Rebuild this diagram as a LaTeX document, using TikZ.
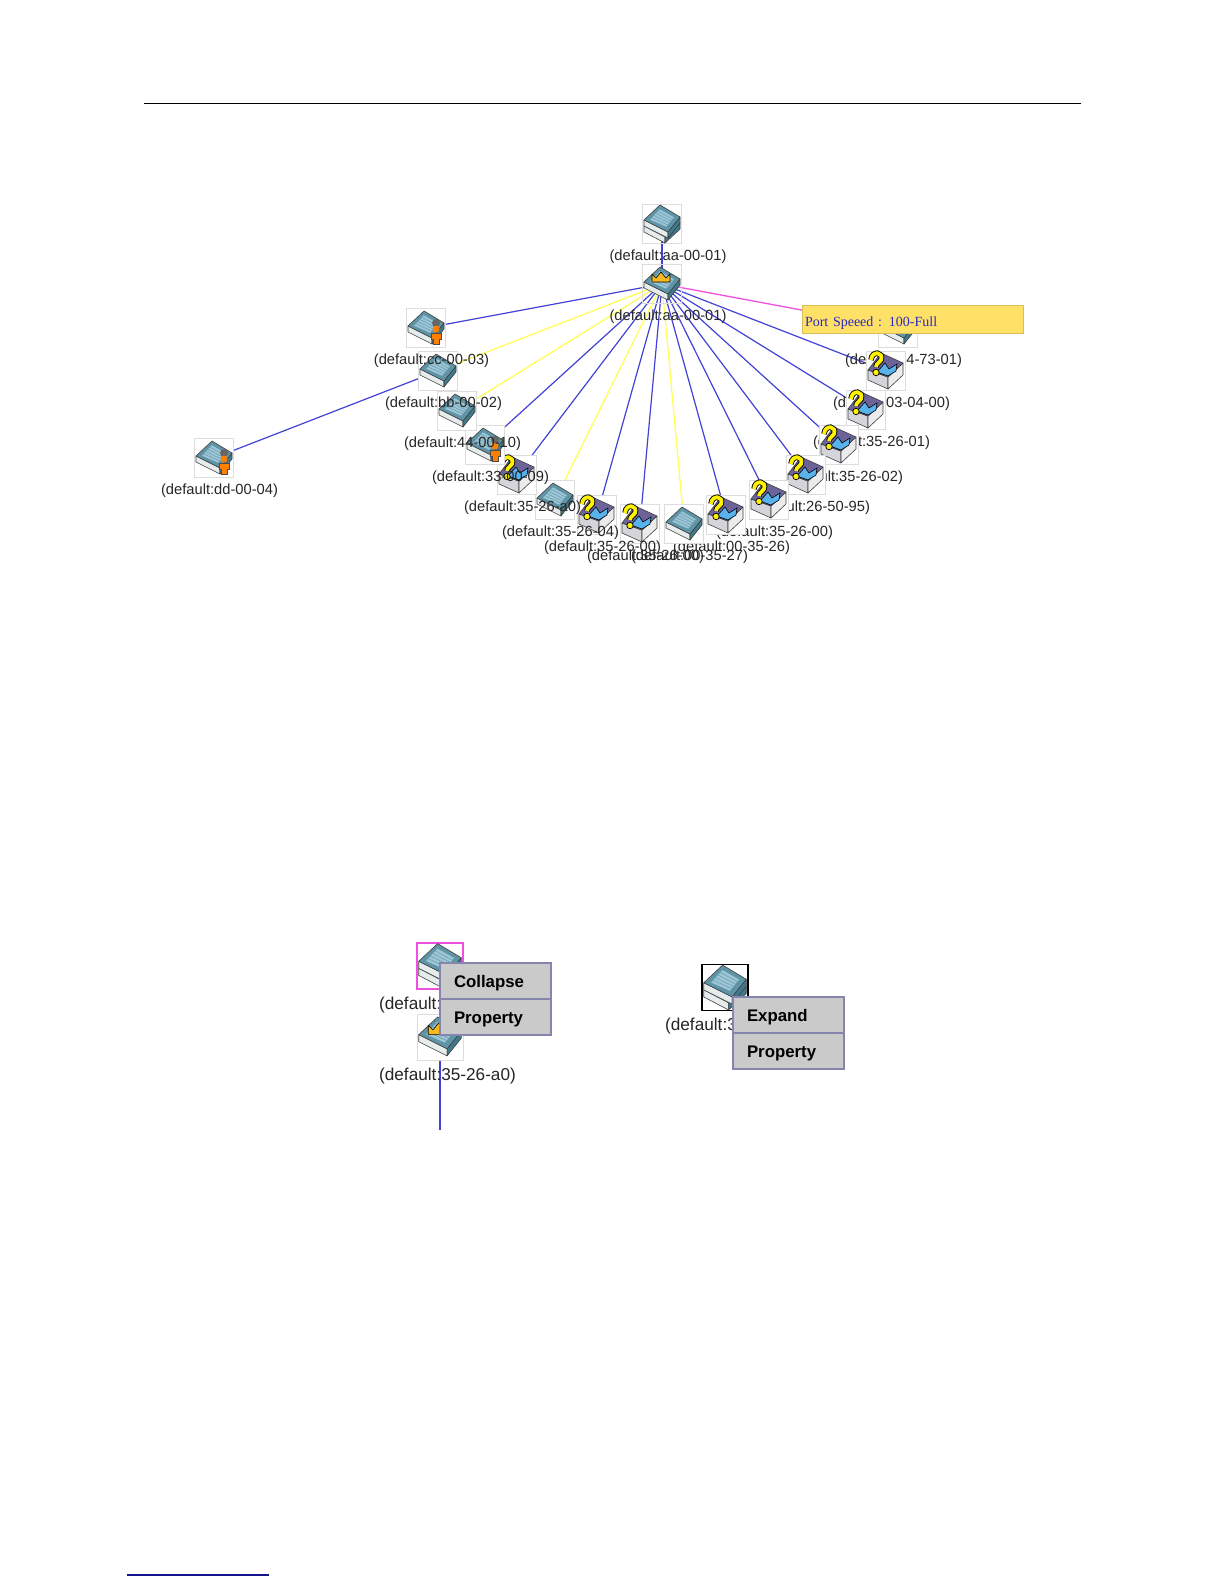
\documentclass[tikz,border=0pt]{standalone}
\usepackage{fontspec}
\setmainfont{Liberation Sans}
\newfontfamily\tipfont{Liberation Serif}
\usetikzlibrary{positioning}
\definecolor{swtop}{HTML}{5F93A6}
\definecolor{swgrid}{HTML}{9CC6D6}
\definecolor{swside}{HTML}{3F7A8C}
\definecolor{swfront}{HTML}{E6ECEC}
\definecolor{wireblue}{HTML}{4242D6}
\definecolor{wireyellow}{HTML}{FFFF5A}
\definecolor{wirepink}{HTML}{F050E0}
\definecolor{tipfill}{HTML}{FFE168}
\definecolor{tiptext}{HTML}{2A2AC0}
\definecolor{menufill}{HTML}{CACACA}
\definecolor{menuline}{HTML}{8585AE}
\definecolor{qtop}{HTML}{6C6498}
\definecolor{qsky}{HTML}{58B2EC}
\definecolor{qface}{HTML}{D4D4DA}
\definecolor{crowngold}{HTML}{F7B91E}
\definecolor{boxgrey}{HTML}{DDDDDD}
\definecolor{navy}{HTML}{14148C}
\pgfdeclarelayer{edges}
\pgfsetlayers{edges,main}
\tikzset{
  hostbox/.style={draw=boxgrey,fill=white,line width=0.8pt,minimum size=39pt,inner sep=0pt,outer sep=0pt},
  hostlabel/.style={inner sep=0pt,text=black!85,font=\fontsize{14.7}{16}\selectfont},
  biglabel/.style={inner sep=0pt,text=black!85,font=\fontsize{17.2}{19}\selectfont},
  bluewire/.style={draw=wireblue,line width=1.2pt},
  yellowwire/.style={draw=wireyellow,line width=1.3pt},
  pinkwire/.style={draw=wirepink,line width=1.3pt},
  menuitem/.style={draw=menuline,fill=menufill,line width=1.2pt,minimum width=111pt,minimum height=36pt,text width=83pt,text height=15.5pt,text depth=3.5pt,inner xsep=14pt,inner ysep=0pt,outer sep=0pt,align=left,font=\fontsize{16.8}{18}\selectfont\bfseries},
  iconline/.style={draw=black!75,line width=0.6pt,line join=round}
}
\newcommand{\switchbody}{%
  \path[iconline,fill=swfront] (-18,-2)--(6,10)--(6,16)--(-18,4)--cycle;
  \path[iconline,fill=swside] (6,10)--(18,-5)--(18,1)--(6,16)--cycle;
  \path[iconline,fill=swtop] (-2,-17)--(18,-5)--(6,10)--(-18,-2)--cycle;
  \fill[swgrid] (-2,-13)--(12,-5)--(4,5)--(-12,-2)--cycle;
  \foreach \g in {0,0.2,0.4,0.6,0.8,1}{\draw[swtop,line width=0.4pt] ({-2-10*\g},{-13+11*\g})--({12-8*\g},{-5+10*\g});}
}
\newcommand{\plainicon}[2][1]{\begin{scope}[shift={(#2)},scale=#1]\switchbody\end{scope}}
\newcommand{\stackicon}[2][1]{\begin{scope}[shift={(#2)},scale=#1]
  \begin{scope}[shift={(0,4)}]\path[iconline,fill=swfront] (-18,-2)--(3,9)--(3,15)--(-18,4)--cycle;\path[iconline,fill=swside] (3,9)--(18,-5)--(18,1)--(3,15)--cycle;\end{scope}
  \begin{scope}[shift={(0,-2)}]\switchbody\end{scope}
\end{scope}}
\newcommand{\crownicon}[2][1]{\begin{scope}[shift={(#2)},scale=#1]\switchbody
  \path[draw=black,line width=0.6pt,line join=round,fill=crowngold] (-10,-10)--(-6,-6)--(-1,-12)--(4,-6)--(8,-10)--(8,-2)--(-10,-2)--cycle;
\end{scope}}
\newcommand{\personicon}[2][1]{\begin{scope}[shift={(#2)},scale=#1]\switchbody
  \fill[black!60] (10,-5) circle (4);
  \fill[orange] (10,1) circle (3.5);
  \path[draw=black!70,line width=0.5pt,fill=orange] (5,5)--(15,5)--(15,11)--(13,11)--(13,16)--(7,16)--(7,11)--(5,11)--cycle;
\end{scope}}
\newcommand{\queryicon}[2][1]{\begin{scope}[shift={(#2)},scale=#1]
  \path[iconline,fill=qface] (-18,-1)--(2,6)--(2,18)--(-18,9)--cycle;
  \path[iconline,fill=white!92!black] (2,6)--(17,-8)--(17,4)--(2,18)--cycle;
  \path[iconline,fill=qtop] (-5,-18)--(17,-8)--(2,6)--(-18,-1)--cycle;
  \path[draw=black,line width=0.6pt,fill=qsky] (-9,1)--(-1,-8)--(3,-2)--(11,-7)--(10,0)--(2,5)--cycle;
  \draw[black,line width=5.6pt] (-15,-11) .. controls (-14,-21) and (-2,-19) .. (-5,-11) .. controls (-6,-8) and (-10,-8) .. (-10,-4);
  \fill[black] (-10,1.5) circle (3.6);
  \draw[yellow,line width=3.8pt] (-15,-11) .. controls (-14,-21) and (-2,-19) .. (-5,-11) .. controls (-6,-8) and (-10,-8) .. (-10,-4);
  \fill[yellow] (-10,1.5) circle (2.7);
\end{scope}}
\begin{document}
\begin{tikzpicture}[x=1pt,y=-1pt]
    \useasboundingbox (0,0) rectangle (1224,1584);
    \begin{pgfonlayer}{edges}\fill[white] (0,0) rectangle (1224,1584);\end{pgfonlayer}
    % page rules
    \coordinate (ruleL) at (144,103.5); \coordinate (ruleR) at (1081,103.5);
    \draw[black,line width=1pt] (ruleL)--(ruleR);
    \coordinate (linkL) at (127,1575); \coordinate (linkR) at (269,1575);
    \draw[navy,line width=1.2pt] (linkL)--(linkR);
    % top of the tree
    \node[hostbox,fill=none] (top) at (662,224) {}; \stackicon{top};
    \node[hostlabel] (toplbl) at (668,257) {(default:aa-00-01)};
    \node[hostbox,fill=none] (root) at (662,284) {}; \crownicon{root};
    \node[hostlabel] (rootlbl) at (668,317) {(default:aa-00-01)};
    \begin{pgfonlayer}{edges}\draw[bluewire] (top.center)--(root.center);\end{pgfonlayer}
    % ports round the root
    \foreach \n/\x/\y/\k/\c/\t in {1/898/328/plain/pinkwire/44-73-01,2/886/371/query/bluewire/03-04-00,3/866/410/query/bluewire/35-26-01,4/839/445/query/bluewire/35-26-02,5/806/475/query/bluewire/26-50-95,6/769/500/query/bluewire/35-26-00,7/726/515/query/bluewire/00-35-26,8/684/524/plain/yellowwire/00-35-27,9/640/524/query/bluewire/35-26-00,10/597/515/query/bluewire/35-26-00,11/555/500/plain/yellowwire/35-26-04,12/517/475/query/bluewire/35-26-a0,13/485/445/person/bluewire/33-00-09,14/457/411/plain/yellowwire/44-00-10,15/438/371/plain/yellowwire/bb-00-02,16/426/328/person/bluewire/cc-00-03}{
      \node[hostbox] (n\n) at (\x,\y) {};
      \csname\k icon\endcsname{n\n};
      \node[hostlabel] (l\n) at (\x+5.5,\y+33) {(default:\t)};
      \begin{pgfonlayer}{edges}\draw[\c] (root.center)--(n\n.center);\end{pgfonlayer}
    }
    \node[hostbox] (far) at (214,458) {}; \personicon{far};
    \node[hostlabel] (farlbl) at (219.5,491) {(default:dd-00-04)};
    \begin{pgfonlayer}{edges}\draw[bluewire] (n15.center)--(far.center);\end{pgfonlayer}
    \node[draw=tipfill!85!black,fill=tipfill,line width=0.8pt,minimum width=221pt,minimum height=28pt,text width=215pt,text height=17pt,text depth=3pt,inner xsep=3pt,inner ysep=0pt,align=left,text=tiptext,font=\tipfont\fontsize{14}{16}\selectfont] (tip) at (912.5,319) {Port Speeed : 100-Full};
    % collapse menu
    \node[hostbox,draw=wirepink,minimum size=46pt,line width=1.2pt] (stackA) at (440,966) {}; \stackicon[1.18]{stackA};
    \node[biglabel] (stackAlbl) at (447.5,1005) {(default:35-26-a0)};
    \node[hostbox,minimum size=46pt] (crownA) at (440,1037) {}; \crownicon[1.18]{crownA};
    \node[biglabel] (crownAlbl) at (447.5,1076) {(default:35-26-a0)};
    \coordinate (crownAend) at (440,1130);
    \begin{pgfonlayer}{edges}\draw[bluewire] (crownA.center)--(crownAend);\end{pgfonlayer}
    \node[menuitem] (collapse) at (495.5,981) {Collapse};
    \node[menuitem,below=0pt of collapse] (propA) {Property};
    % expand menu
    \node[hostbox,draw=black,minimum size=46pt,line width=1.2pt] (stackB) at (725,987.5) {}; \stackicon[1.18]{stackB};
    \node[biglabel] (stackBlbl) at (733.5,1026) {(default:35-26-a0)};
    \node[menuitem] (expand) at (788.5,1015) {Expand};
    \node[menuitem,below=0pt of expand] (propB) {Property};
  \end{tikzpicture}
\end{document}
